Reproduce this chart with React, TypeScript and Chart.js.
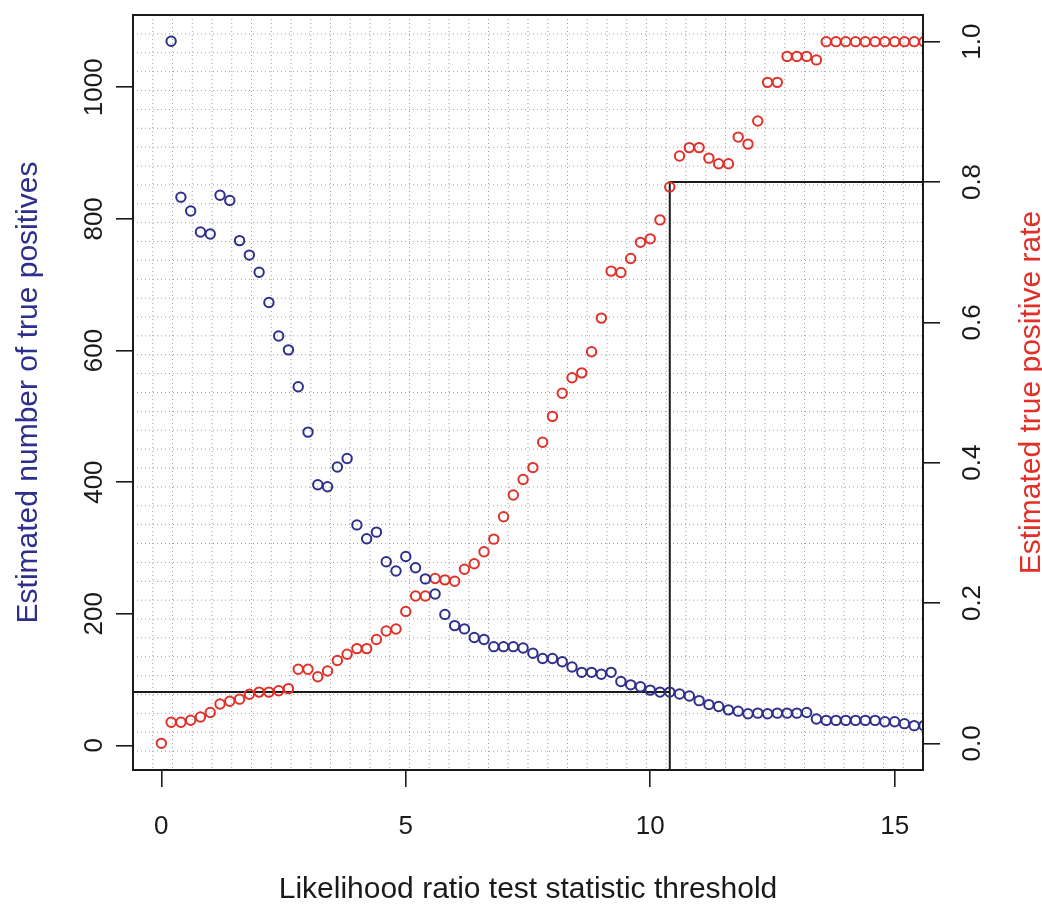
import React, { useEffect, useRef } from "react";
import { Chart, registerables } from "chart.js";

Chart.register(...registerables);

const THRESHOLDS = [
  0, 0.2, 0.4, 0.6, 0.8, 1.0, 1.2, 1.4, 1.6, 1.8, 2.0, 2.2, 2.4, 2.6, 2.8, 3.0, 3.2, 3.4, 3.6, 3.8,
  4.0, 4.2, 4.4, 4.6, 4.8, 5.0, 5.2, 5.4, 5.6, 5.8, 6.0, 6.2, 6.4, 6.6, 6.8, 7.0, 7.2, 7.4, 7.6, 7.8,
  8.0, 8.2, 8.4, 8.6, 8.8, 9.0, 9.2, 9.4, 9.6, 9.8, 10.0, 10.2, 10.4, 10.6, 10.8, 11.0, 11.2, 11.4, 11.6, 11.8,
  12.0, 12.2, 12.4, 12.6, 12.8, 13.0, 13.2, 13.4, 13.6, 13.8, 14.0, 14.2, 14.4, 14.6, 14.8, 15.0, 15.2, 15.4, 15.6,
];

const TRUE_POSITIVES: (number | null)[] = [
  null, 1070, 833, 812, 780, 777, 836, 828, 767, 745, 719, 673, 622, 601, 545, 476, 396, 393, 423, 436,
  335, 314, 324, 279, 265, 287, 270, 253, 230, 199, 182, 177, 164, 161, 150, 150, 150, 148, 140, 132,
  132, 127, 119, 111, 111, 108, 111, 97, 92, 89, 84, 81, 81, 78, 75, 68, 62, 59, 54, 52,
  48, 49, 48, 49, 49, 49, 50, 40, 38, 38, 38, 38, 38, 38, 36, 36, 33, 30, 30,
];

const TRUE_POSITIVE_RATE = [
  0.0, 0.03, 0.03, 0.033, 0.0375, 0.044, 0.056, 0.06, 0.063, 0.07, 0.073, 0.073, 0.075, 0.078, 0.1055, 0.1055, 0.095, 0.103, 0.118, 0.127,
  0.135, 0.135, 0.148, 0.16, 0.163, 0.188, 0.21, 0.21, 0.235, 0.233, 0.231, 0.248, 0.256, 0.273, 0.291, 0.323, 0.354, 0.376, 0.393, 0.429,
  0.466, 0.499, 0.521, 0.528, 0.558, 0.606, 0.673, 0.671, 0.691, 0.714, 0.719, 0.746, 0.793, 0.837, 0.849, 0.849, 0.834, 0.826, 0.826, 0.864,
  0.854, 0.887, 0.942, 0.942, 0.979, 0.979, 0.979, 0.974, 1, 1, 1, 1, 1, 1, 1, 1, 1, 1, 1,
];

const X_TICKS = [0, 5, 10, 15];
const LEFT_TICKS = [0, 200, 400, 600, 800, 1000];
const RIGHT_TICKS = [0, 0.2, 0.4, 0.6, 0.8, 1.0];

const SELECTED_THRESHOLD = 10.4;
const SELECTED_COUNT = 81;
const SELECTED_RATE = 0.8;

const X_MIN = -0.58;
const X_MAX = 15.58;
const LEFT_MIN = -37.4;
const LEFT_MAX = 1109.8;
const RIGHT_MIN = -0.038;
const RIGHT_MAX = 1.038;

const BLUE = "#2e2e8c";
const RED = "#e03028";
const FONT = "'Liberation Sans', Arial, sans-serif";

const decorPlugin = {
  id: "decor",
  beforeDatasetsDraw(chart: any) {
    const { ctx, chartArea } = chart;
    const { left, right, top, bottom } = chartArea;
    ctx.save();
    ctx.strokeStyle = "#a0a0a0";
    ctx.lineWidth = 1;
    ctx.setLineDash([1, 3]);
    for (let i = 1; i < 40; i++) {
      const x = left + ((right - left) * i) / 40;
      ctx.beginPath();
      ctx.moveTo(x, top);
      ctx.lineTo(x, bottom);
      ctx.stroke();
      const y = top + ((bottom - top) * i) / 40;
      ctx.beginPath();
      ctx.moveTo(left, y);
      ctx.lineTo(right, y);
      ctx.stroke();
    }
    ctx.restore();
  },
  afterDraw(chart: any) {
    const { ctx, chartArea } = chart;
    const { left, right, top, bottom } = chartArea;
    ctx.save();
    ctx.strokeStyle = "#1a1a1a";
    ctx.lineWidth = 2;
    ctx.strokeRect(left, top, right - left, bottom - top);

    ctx.fillStyle = "#1a1a1a";
    ctx.font = `26px ${FONT}`;
    ctx.textAlign = "center";
    ctx.textBaseline = "alphabetic";
    const xs = chart.scales.x;
    xs.ticks.forEach((t: any) => {
      ctx.fillText(String(t.value), xs.getPixelForValue(t.value), 834);
    });
    const ys = chart.scales.y;
    ys.ticks.forEach((t: any) => {
      ctx.save();
      ctx.translate(102, ys.getPixelForValue(t.value));
      ctx.rotate(-Math.PI / 2);
      ctx.fillText(String(t.value), 0, 0);
      ctx.restore();
    });
    const y1 = chart.scales.y1;
    y1.ticks.forEach((t: any) => {
      ctx.save();
      ctx.translate(980, y1.getPixelForValue(t.value));
      ctx.rotate(-Math.PI / 2);
      ctx.fillText(Number(t.value).toFixed(1), 0, 0);
      ctx.restore();
    });

    ctx.font = `30px ${FONT}`;
    ctx.fillText("Likelihood ratio test statistic threshold", (left + right) / 2, 898);

    ctx.save();
    ctx.fillStyle = BLUE;
    ctx.translate(37, (top + bottom) / 2);
    ctx.rotate(-Math.PI / 2);
    ctx.fillText("Estimated number of true positives", 0, 0);
    ctx.restore();

    ctx.save();
    ctx.fillStyle = RED;
    ctx.translate(1040, (top + bottom) / 2);
    ctx.rotate(-Math.PI / 2);
    ctx.fillText("Estimated true positive rate", 0, 0);
    ctx.restore();

    ctx.restore();
  },
};

export default function App() {
  const canvasRef = useRef<HTMLCanvasElement | null>(null);

  useEffect(() => {
    if (!canvasRef.current) return;
    const blueData = THRESHOLDS.map((x, i) => ({ x, y: TRUE_POSITIVES[i] }));
    const redData = THRESHOLDS.map((x, i) => ({ x, y: TRUE_POSITIVE_RATE[i] }));
    const tickGrid = {
      drawOnChartArea: false,
      drawTicks: true,
      tickLength: 17,
      color: "#1a1a1a",
      lineWidth: 1.6,
    };
    const chart = new Chart(canvasRef.current, {
      type: "scatter",
      data: {
        datasets: [
          {
            data: blueData as any,
            yAxisID: "y",
            pointStyle: "circle",
            pointRadius: 4.7,
            pointBorderWidth: 2,
            borderColor: BLUE,
            backgroundColor: "rgba(0,0,0,0)",
            clip: 0,
          },
          {
            data: redData as any,
            yAxisID: "y1",
            pointStyle: "circle",
            pointRadius: 4.7,
            pointBorderWidth: 2,
            borderColor: RED,
            backgroundColor: "rgba(0,0,0,0)",
            clip: 0,
          },
          {
            data: [
              { x: X_MIN, y: SELECTED_COUNT },
              { x: SELECTED_THRESHOLD, y: SELECTED_COUNT },
            ],
            yAxisID: "y",
            showLine: true,
            pointRadius: 0,
            borderColor: "#1a1a1a",
            borderWidth: 2,
            clip: 0,
          },
          {
            data: [
              { x: SELECTED_THRESHOLD, y: RIGHT_MIN },
              { x: SELECTED_THRESHOLD, y: SELECTED_RATE },
              { x: X_MAX, y: SELECTED_RATE },
            ],
            yAxisID: "y1",
            showLine: true,
            pointRadius: 0,
            borderColor: "#1a1a1a",
            borderWidth: 2,
            clip: 0,
          },
        ],
      },
      options: {
        responsive: false,
        animation: false,
        events: [],
        layout: { padding: { top: 15, left: 0, right: 0, bottom: 0 } },
        plugins: { legend: { display: false }, tooltip: { enabled: false }, title: { display: false } },
        scales: {
          x: {
            type: "linear",
            position: "bottom",
            min: X_MIN,
            max: X_MAX,
            afterBuildTicks: (s: any) => {
              s.ticks = X_TICKS.map((v) => ({ value: v }));
            },
            afterFit: (s: any) => {
              s.height = 135;
            },
            ticks: { display: false },
            grid: tickGrid,
            border: { display: false },
          },
          y: {
            type: "linear",
            position: "left",
            min: LEFT_MIN,
            max: LEFT_MAX,
            afterBuildTicks: (s: any) => {
              s.ticks = LEFT_TICKS.map((v) => ({ value: v }));
            },
            afterFit: (s: any) => {
              s.width = 133;
            },
            ticks: { display: false },
            grid: tickGrid,
            border: { display: false },
          },
          y1: {
            type: "linear",
            position: "right",
            min: RIGHT_MIN,
            max: RIGHT_MAX,
            afterBuildTicks: (s: any) => {
              s.ticks = RIGHT_TICKS.map((v) => ({ value: v }));
            },
            afterFit: (s: any) => {
              s.width = 119;
            },
            ticks: { display: false },
            grid: tickGrid,
            border: { display: false },
          },
        },
      } as any,
      plugins: [decorPlugin],
    });
    return () => chart.destroy();
  }, []);

  return (
    <div style={{ position: "fixed", left: 0, top: 0, width: 1042, height: 905, background: "#fff" }}>
      <canvas ref={canvasRef} width={1042} height={905} style={{ width: 1042, height: 905 }} />
    </div>
  );
}
